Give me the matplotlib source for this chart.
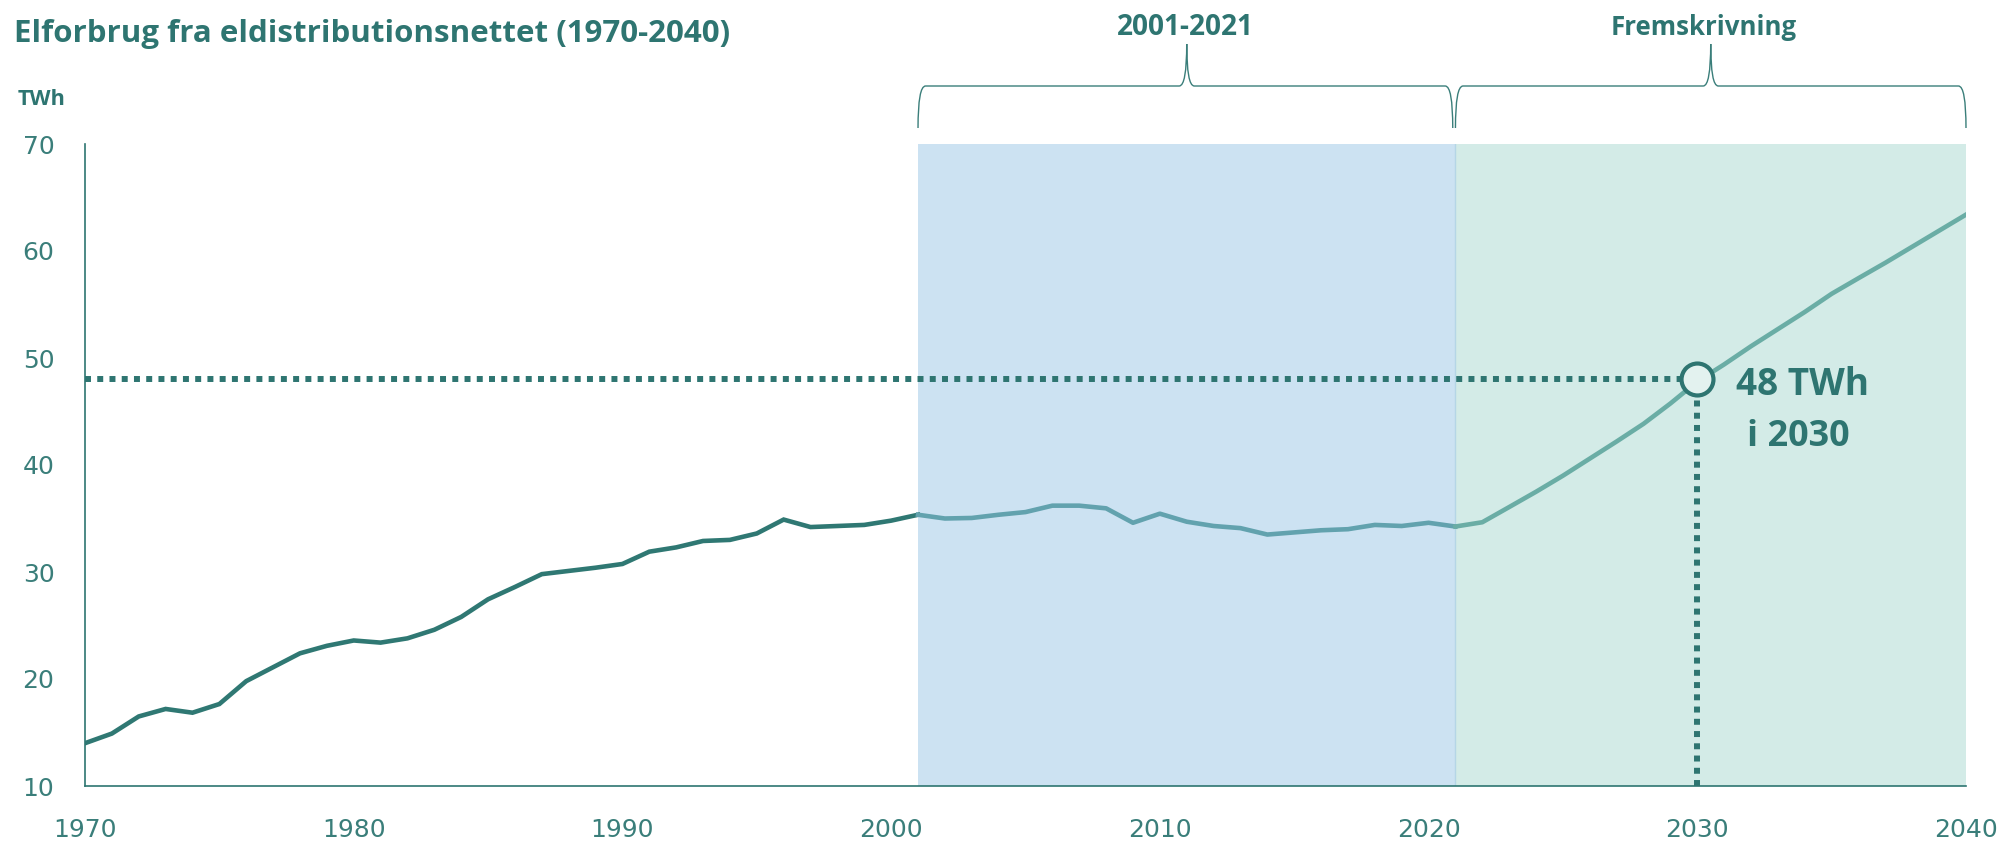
import matplotlib
matplotlib.use("Agg")
import matplotlib.pyplot as plt
import matplotlib.transforms as mtransforms
from matplotlib.path import Path
from matplotlib.patches import PathPatch

# ---------------- data ----------------
years_hist = list(range(1970, 2002))
values_hist = [14.0, 14.9, 16.5, 17.2, 16.85, 17.66, 19.8, 21.1, 22.4, 23.1,
               23.6, 23.4, 23.8, 24.6, 25.8, 27.45, 28.6, 29.8, 30.1, 30.4,
               30.75, 31.9, 32.3, 32.9, 33.0, 33.6, 34.9, 34.2, 34.3, 34.4,
               34.8, 35.35]
years_recent = list(range(2001, 2022))
values_recent = [35.35, 35.0, 35.05, 35.35, 35.6, 36.2, 36.2, 35.95, 34.6, 35.45,
                 34.7, 34.3, 34.1, 33.5, 33.7, 33.9, 34.0, 34.4, 34.3, 34.6,
                 34.25]
years_proj = list(range(2021, 2041))
values_proj = [34.25, 34.65, 36.07, 37.5, 39.0, 40.6, 42.2, 43.85, 45.75, 47.8,
               49.4, 51.1, 52.7, 54.3, 56.0, 57.46, 58.9, 60.4, 61.9, 63.4]
highlight_year = 2030
highlight_value = 48
x_ticks = [1970, 1980, 1990, 2000, 2010, 2020, 2030, 2040]
y_ticks = [10, 20, 30, 40, 50, 60, 70]
period_recent = (2001, 2021)
period_proj = (2021, 2040)

title = "Elforbrug fra eldistributionsnettet (1970-2040)"
unit_label = "TWh"
label_recent = "2001-2021"
label_proj = "Fremskrivning"
annot_lines = ["48 TWh", "i 2030"]

# ---------------- style ----------------
W, H = 2002, 844
TEAL = "#2E7571"
TICK = "#3A7E7A"
C_HIST = "#2F7873"
C_RECENT = "#62A2AE"
C_PROJ = "#6AADA5"
SH_BLUE = "#CCE2F2"
SH_GREEN = "#D3EBE7"
BOLD_FAMILY = "Open Sans"

fig = plt.figure(figsize=(W / 100, H / 100), dpi=100)
fig.patch.set_facecolor("white")

ax_l, ax_r, ax_t, ax_b = 85, 1966, 144, 786
ax = fig.add_axes([ax_l / W, 1 - ax_b / H, (ax_r - ax_l) / W, (ax_b - ax_t) / H])
ax.set_xlim(1970, 2040)
ax.set_ylim(10, 70)
ax.set_facecolor("none")

ax.axvspan(*period_recent, color=SH_BLUE, lw=0, zorder=0)
ax.axvspan(*period_proj, color=SH_GREEN, lw=0, zorder=0)
ax.axvline(period_recent[1], color="#B5D6E6", lw=1.0, zorder=0.5)

ax.plot(years_hist, values_hist, color=C_HIST, lw=3.3, solid_joinstyle="miter", zorder=3)
ax.plot(years_recent, values_recent, color=C_RECENT, lw=3.3, zorder=3)
ax.plot(years_proj, values_proj, color=C_PROJ, lw=3.3, zorder=3)

dot_style = (0, (1.0, 1.05))
ax.plot([1970, highlight_year], [highlight_value, highlight_value], color=TEAL,
        lw=4.3, linestyle=dot_style, dash_capstyle="butt", zorder=4)
ax.plot([highlight_year, highlight_year], [10, highlight_value], color=TEAL,
        lw=4.3, linestyle=dot_style, dash_capstyle="butt", zorder=4)
ax.plot([highlight_year], [highlight_value], marker="o", ms=23, mew=3.0,
        mfc="#E3F2EF", mec=TEAL, zorder=5, clip_on=False)

for s in ["top", "right"]:
    ax.spines[s].set_visible(False)
for s in ["left", "bottom"]:
    ax.spines[s].set_color(TEAL)
    ax.spines[s].set_linewidth(1.2)
    ax.spines[s].set_zorder(2)

ax.set_xticks(x_ticks)
ax.set_yticks(y_ticks)
ax.set_xticklabels([str(v) for v in x_ticks])
ax.set_yticklabels([str(v) for v in y_ticks])
ax.tick_params(axis="both", length=0, labelsize=18, labelcolor=TICK)
ax.tick_params(axis="y", pad=22)
ax.tick_params(axis="x", pad=23)
for lab in ax.get_xticklabels() + ax.get_yticklabels():
    lab.set_fontfamily("DejaVu Sans")

# ---------------- braces ----------------
btr = mtransforms.blended_transform_factory(ax.transData, ax.transAxes)
yb = 1 + (ax_t - 128) / (ax_b - ax_t)
yh = 1 + (ax_t - 86) / (ax_b - ax_t)
ytop = 1 + (ax_t - 44) / (ax_b - ax_t)


def brace(x0, x1, xm, d=0.28):
    verts = [(x0, yb), (x0, yh), (x0 + d, yh),
             (xm - d, yh), (xm, yh), (xm, ytop),
             (xm, yh), (xm + d, yh),
             (x1 - d, yh), (x1, yh), (x1, yb)]
    codes = [Path.MOVETO, Path.CURVE3, Path.CURVE3,
             Path.LINETO, Path.CURVE3, Path.CURVE3,
             Path.CURVE3, Path.CURVE3,
             Path.LINETO, Path.CURVE3, Path.CURVE3]
    p = PathPatch(Path(verts, codes), transform=btr, fill=False,
                  edgecolor=TICK, lw=1.0, clip_on=False)
    ax.add_patch(p)


brace(2001.0, 2020.9, 2011.0)
brace(2021.0, 2040.0, 2030.5)

# ---------------- texts ----------------
fig.canvas.draw()
renderer = fig.canvas.get_renderer()


def ftext(xpx, ypx, s, width_px, ha="left", size=20, family=BOLD_FAMILY, weight="bold"):
    t = fig.text(xpx / W, 1 - ypx / H, s, ha=ha, va="baseline", color=TEAL,
                 fontsize=size, fontfamily=family, fontweight=weight)
    for _ in range(2):
        bb = t.get_window_extent(renderer)
        t.set_fontsize(t.get_fontsize() * width_px / bb.width)
    return t


ftext(14, 42, title, 718, ha="left", size=22)
ftext(18, 105, unit_label, 48, ha="left", size=12)
ftext(1185, 35, label_recent, 137, ha="center", size=20)
ftext(1704, 35, label_proj, 186, ha="center", size=20)
ftext(1802, 395, annot_lines[0], 133, ha="center", size=27)
ftext(1798, 446, annot_lines[1], 102, ha="center", size=27)

fig.savefig("out.png", dpi=100)
